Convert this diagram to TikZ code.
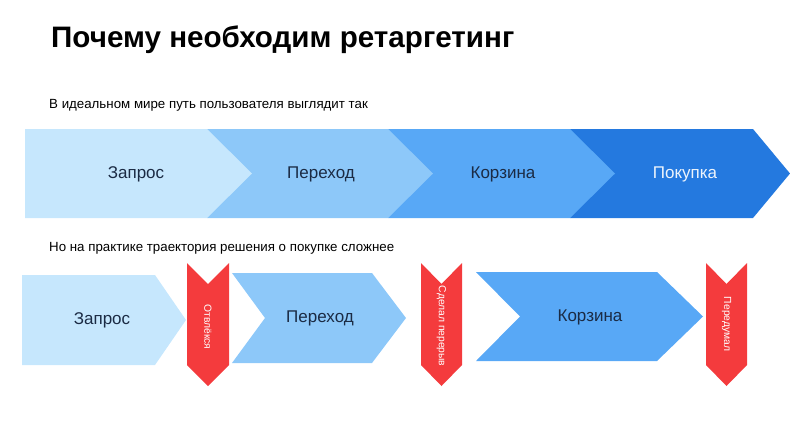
\documentclass[tikz,border=0pt]{standalone}
\usepackage{fontspec}
\setmainfont{Liberation Sans}
\usepackage{tikz}
\usetikzlibrary{positioning}

\definecolor{shagA}{HTML}{C6E7FD}
\definecolor{shagB}{HTML}{8DC8F9}
\definecolor{shagC}{HTML}{58A8F6}
\definecolor{shagD}{HTML}{2479DF}
\definecolor{stopred}{HTML}{F43B3D}
\definecolor{tekst}{HTML}{1B2B44}

\begin{document}
\begin{tikzpicture}[
			x=1pt, y=-1pt,
			titul/.style={anchor=base west, font=\fontsize{29.6}{34}\selectfont\bfseries, inner sep=0pt},
			podpis/.style={anchor=base west, font=\fontsize{13.3}{16}\selectfont, inner sep=0pt},
			etap/.style={font=\fontsize{17}{20}\selectfont, text=tekst, inner sep=0pt},
			stop/.style={fill=stopred},
			stoptekst/.style={rotate=-90, font=\fontsize{10.3}{12}\selectfont, text=white, inner sep=0pt}
		]
		\useasboundingbox (0,0) rectangle (790,437);

		\node[titul] (zag) at (51,47) {Почему необходим ретаргетинг};
		\node[podpis] (ideal) at (49,108) {В идеальном мире путь пользователя выглядит так};

		% idealnyj put', sprava nalevo
		\fill[shagD] (570,129) -- (753,129) -- (790,173.5) -- (753,218) -- (570,218) -- cycle;
		\fill[shagC] (388,129) -- (570,129) -- (615,173.5) -- (570,218) -- (388,218) -- cycle;
		\fill[shagB] (207,129) -- (388,129) -- (433,173.5) -- (388,218) -- (207,218) -- cycle;
		\fill[shagA] (25,129) -- (207,129) -- (252,173.5) -- (207,218) -- (25,218) -- cycle;

		\node[etap] (i1) at (136,174) {Запрос};
		\node[etap] (i2) at (321,174) {Переход};
		\node[etap] (i3) at (503,174) {Корзина};
		\node[etap, text=white!92!shagD] (i4) at (685,174) {Покупка};

		\node[podpis] (praktika) at (49,251) {Но на практике траектория решения о покупке сложнее};

		% realnyj put'
		\fill[shagA] (22,275) -- (155,275) -- (186,320) -- (155,365) -- (22,365) -- cycle;
		\fill[shagB] (232,273) -- (372,273) -- (406,318) -- (372,363) -- (232,363) -- (265,318) -- cycle;
		\fill[shagC] (476,272) -- (657,272) -- (703,316.5) -- (657,361) -- (476,361) -- (520,316.5) -- cycle;

		\fill[stop] (187,263) -- (208,284) -- (229,263) -- (229,365) -- (208,386) -- (187,365) -- cycle;
		\fill[stop] (421,263) -- (441.5,284) -- (462,263) -- (462,365) -- (441.5,386) -- (421,365) -- cycle;
		\fill[stop] (706,263) -- (726.5,284) -- (747,263) -- (747,365) -- (726.5,386) -- (706,365) -- cycle;

		\node[etap] (r1) at (102,320) {Запрос};
		\node[etap] (r2) at (320,318) {Переход};
		\node[etap] (r3) at (590,317) {Корзина};

		\node[stoptekst] (s1) at (208,327) {Отвлёкся};
		\node[stoptekst] (s2) at (441.5,326) {Сделал перерыв};
		\node[stoptekst] (s3) at (726.5,324) {Передумал};
	\end{tikzpicture}
\end{document}
